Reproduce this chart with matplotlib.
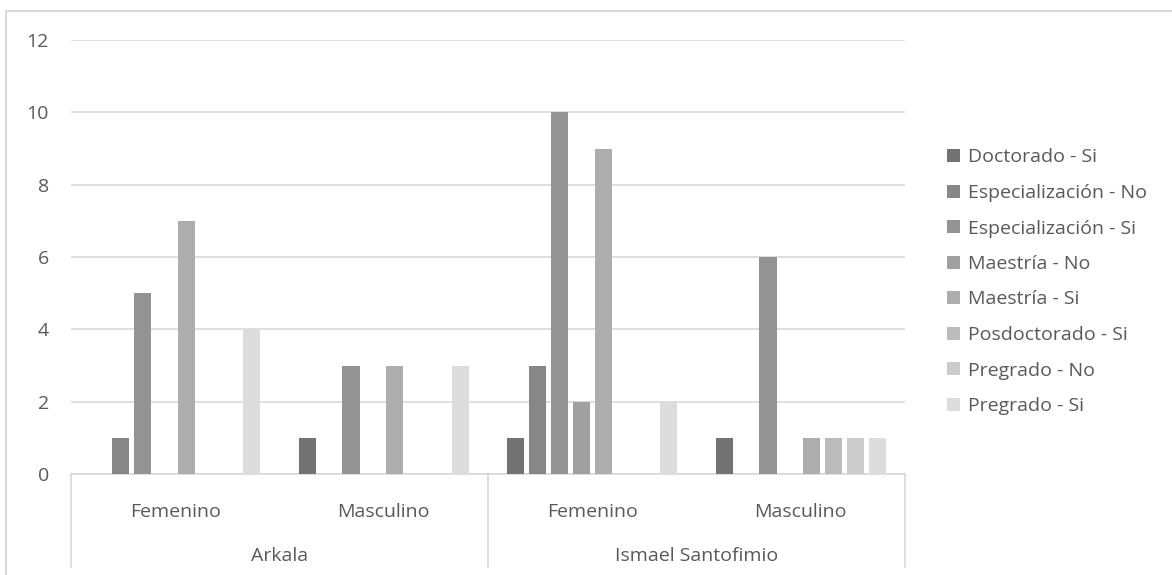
import numpy as np
import matplotlib.pyplot as plt
from matplotlib.patches import Rectangle

plt.rcParams['font.family'] = ['Open Sans', 'DejaVu Sans']

schools = ['Arkala', 'Ismael Santofimio']
genders = ['Femenino', 'Masculino']
series = ['Doctorado - Si', 'Especialización - No', 'Especialización - Si',
          'Maestría - No', 'Maestría - Si', 'Posdoctorado - Si',
          'Pregrado - No', 'Pregrado - Si']
# values per group: Arkala-Fem, Arkala-Masc, Ismael-Fem, Ismael-Masc
doctorado_si = [0, 1, 1, 1]
espec_no = [1, 0, 3, 0]
espec_si = [5, 3, 10, 6]
maestria_no = [0, 0, 2, 0]
maestria_si = [7, 3, 9, 1]
posdoc_si = [0, 0, 0, 1]
pregrado_no = [0, 0, 0, 1]
pregrado_si = [4, 3, 2, 1]
values = [doctorado_si, espec_no, espec_si, maestria_no,
          maestria_si, posdoc_si, pregrado_no, pregrado_si]
colors = ['#737373', '#878787', '#939393', '#a0a0a0',
          '#adadad', '#bcbcbc', '#cbcbcb', '#dcdcdc']

W, H = 1172, 575
fs = 14
txt = '#595959'
fig = plt.figure(figsize=(W / 100, H / 100), dpi=100)
ax = fig.add_axes([71 / W, 1 - 474 / H, (905 - 71) / W, (474 - 40) / H])

n_groups = len(schools) * len(genders)
x = np.arange(n_groups) + 0.5
slot = 0.1046
bw = 0.082
for k, (name, vals, c) in enumerate(zip(series, values, colors)):
    off = (k - (len(series) - 1) / 2) * slot
    ax.bar(x + off, vals, width=bw, color=c, label=name, zorder=3)

ax.set_xlim(0, n_groups)
ax.set_ylim(0, 12)
ax.set_yticks(range(0, 13, 2))
ax.yaxis.grid(True, color='#d9d9d9', linewidth=1.2, zorder=0)
ax.tick_params(axis='y', length=0, pad=16, labelsize=fs, colors=txt)
ax.set_xticks([])
for s in ['left', 'right', 'top']:
    ax.spines[s].set_visible(False)
ax.spines['bottom'].set_color('#d9d9d9')
ax.spines['bottom'].set_linewidth(1.2)

# multi-level category axis
tr = ax.get_xaxis_transform()
depth = -(567 - 474) / (474 - 40)
for xb in [0, 2, 4]:
    ax.plot([xb, xb], [0, depth], transform=tr, color='#d9d9d9',
            linewidth=1.2, clip_on=False)
for i in range(n_groups):
    ax.text(x[i], -(512 - 474) / (474 - 40), genders[i % 2], transform=tr,
            ha='center', va='center', fontsize=fs, color=txt)
for j, s in enumerate(schools):
    ax.text(2 * j + 1, -(556 - 474) / (474 - 40), s, transform=tr,
            ha='center', va='center', fontsize=fs, color=txt)

leg = fig.legend(loc='upper left', bbox_to_anchor=(929 / W, 1 - 131 / H),
                 frameon=False, fontsize=fs, handlelength=0.68,
                 handleheight=0.68, handletextpad=0.45, labelspacing=0.9)
for t in leg.get_texts():
    t.set_color(txt)

# chart border
fig.add_artist(Rectangle((6 / W, -0.05), 1.2, 1 - 11 / H + 0.05,
                         transform=fig.transFigure, fill=False,
                         edgecolor='#d9d9d9', linewidth=1.5))

fig.savefig('out.png', dpi=100)
